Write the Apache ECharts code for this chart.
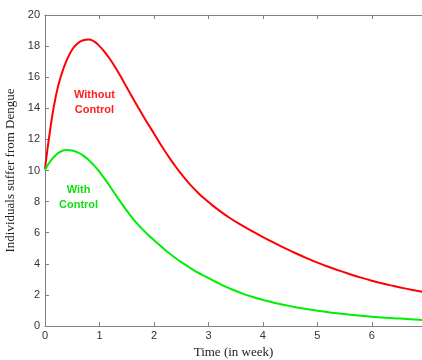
<!DOCTYPE html>
<html><head><meta charset="utf-8">
<script src="https://cdn.jsdelivr.net/npm/echarts@6/dist/echarts.min.js"></script>
<style>html,body{margin:0;padding:0;background:#fff}#c{width:422px;height:360px}</style>
</head><body><div id="c"></div>
<script>
var withoutControl = [[0,10.1],[0.1,12.75],[0.2,14.8],[0.3,16.15],[0.4,17.1],[0.5,17.78],[0.6,18.18],[0.7,18.38],[0.8,18.43],[0.9,18.3],[1.0,18.0],[1.1,17.6],[1.2,17.12],[1.3,16.58],[1.4,15.98],[1.5,15.35],[1.6,14.73],[1.7,14.12],[1.8,13.52],[1.9,12.94],[2.0,12.38],[2.1,11.8],[2.2,11.25],[2.3,10.73],[2.4,10.24],[2.5,9.78],[2.6,9.35],[2.7,8.96],[2.8,8.6],[2.9,8.27],[3.0,7.97],[3.2,7.42],[3.4,6.93],[3.6,6.5],[3.8,6.1],[4.0,5.72],[4.2,5.36],[4.4,5.01],[4.6,4.68],[4.8,4.37],[5.0,4.08],[5.2,3.81],[5.4,3.56],[5.6,3.33],[5.8,3.11],[6.0,2.91],[6.2,2.73],[6.4,2.57],[6.6,2.42],[6.8,2.28],[6.92,2.2]];
var withControl = [[0,10.03],[0.1,10.6],[0.2,11.0],[0.3,11.24],[0.4,11.32],[0.5,11.28],[0.6,11.16],[0.7,10.96],[0.8,10.68],[0.9,10.33],[1.0,9.91],[1.1,9.44],[1.2,8.94],[1.3,8.42],[1.4,7.91],[1.5,7.42],[1.6,6.96],[1.7,6.55],[1.8,6.18],[1.9,5.84],[2.0,5.52],[2.1,5.21],[2.2,4.91],[2.3,4.63],[2.4,4.36],[2.5,4.11],[2.6,3.88],[2.7,3.66],[2.8,3.45],[2.9,3.26],[3.0,3.08],[3.2,2.72],[3.4,2.4],[3.6,2.12],[3.8,1.88],[4.0,1.68],[4.2,1.5],[4.4,1.35],[4.6,1.21],[4.8,1.09],[5.0,0.98],[5.2,0.89],[5.4,0.81],[5.6,0.73],[5.8,0.66],[6.0,0.6],[6.2,0.55],[6.4,0.5],[6.6,0.46],[6.8,0.42],[6.92,0.39]];
var xLabel = 'Time (in week)';
var yLabel = 'Individuals suffer from Dengue';
var labelWithout = 'Without\nControl';
var labelWith = 'With\nControl';

var chart = echarts.init(document.getElementById('c'));
var axisLine = {lineStyle:{color:'#808080',width:1}};
var tickStyle = {inside:true,length:4,lineStyle:{color:'#808080'}};
var lbl = {color:'#333',fontFamily:'Liberation Sans, Arial',fontSize:11};
chart.setOption({
  animation:false,
  grid:{left:45,right:0,top:15,bottom:34,containLabel:false,outerBoundsMode:'none'},
  xAxis:[{type:'value',min:0,max:6.92,interval:1,axisLine:axisLine,axisTick:tickStyle,
    axisLabel:Object.assign({margin:4,showMaxLabel:false},lbl),splitLine:{show:false},
    name:xLabel,nameLocation:'middle',nameGap:20,
    nameTextStyle:{fontFamily:'Liberation Serif, Times New Roman',fontSize:13,color:'#222'}},
   {type:'value',position:'top',min:0,max:6.92,interval:1,axisLine:axisLine,axisTick:tickStyle,
    axisLabel:{show:false},splitLine:{show:false}}],
  yAxis:[{type:'value',min:0,max:20,interval:2,axisLine:Object.assign({show:true},axisLine),axisTick:tickStyle,
    axisLabel:Object.assign({margin:5},lbl),splitLine:{show:false},
    name:yLabel,nameLocation:'middle',nameGap:27,
    nameTextStyle:{fontFamily:'Liberation Serif, Times New Roman',fontSize:13,color:'#222'}}],
  series:[
    {type:'line',data:withoutControl,smooth:true,showSymbol:false,lineStyle:{color:'#ff0000',width:2},itemStyle:{color:'#ff0000'}},
    {type:'line',data:withControl,smooth:true,showSymbol:false,lineStyle:{color:'#00ee00',width:2},itemStyle:{color:'#00ee00'}}
  ],
  graphic:[
    {type:'text',left:74,top:87,style:{text:labelWithout,fill:'#ff2020',font:'bold 11px Liberation Sans, Arial',textAlign:'center',lineHeight:15,align:'center'}},
    {type:'text',left:59,top:182,style:{text:labelWith,fill:'#10dd10',font:'bold 11px Liberation Sans, Arial',textAlign:'center',lineHeight:15,align:'center'}}
  ]
});
</script></body></html>
